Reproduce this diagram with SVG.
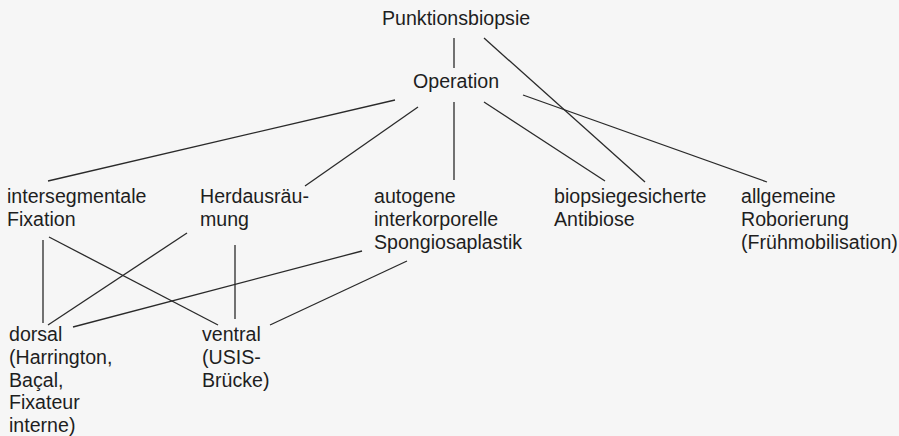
<svg xmlns="http://www.w3.org/2000/svg" width="899" height="436" viewBox="0 0 899 436">
<style>
text{font-family:"Liberation Sans",Arial,Helvetica,sans-serif;font-size:19.6px;fill:#1e1e1e}
.c line{stroke:#2a2a2a;stroke-width:1.3;fill:none}
</style>
<rect x="0" y="0" width="899" height="436" fill="#f6f6f6"/>
<g id="connectors" class="c">
<line x1="454" y1="38" x2="454" y2="68"/>
<line x1="484" y1="38" x2="645" y2="182"/>
<line x1="395" y1="100" x2="48" y2="181"/>
<line x1="418" y1="107" x2="305" y2="186"/>
<line x1="454" y1="102" x2="454" y2="180"/>
<line x1="484" y1="102" x2="605" y2="181"/>
<line x1="523" y1="95" x2="767" y2="182"/>
<line x1="43" y1="240" x2="43" y2="323"/>
<line x1="49" y1="237" x2="218" y2="325"/>
<line x1="187" y1="233" x2="48" y2="325"/>
<line x1="235" y1="245" x2="235" y2="319"/>
<line x1="362" y1="251" x2="73" y2="327"/>
<line x1="407" y1="261" x2="270" y2="325"/>
</g>
<g id="punktionsbiopsie"><text x="382" y="25">Punktionsbiopsie</text></g>
<g id="operation"><text x="413" y="88">Operation</text></g>
<g id="fixation"><text x="7" y="203">intersegmentale</text><text x="7" y="226">Fixation</text></g>
<g id="herdausraeumung"><text x="200" y="203">Herdausräu-</text><text x="200" y="226">mung</text></g>
<g id="spongiosaplastik"><text x="374" y="203">autogene</text><text x="374" y="226">interkorporelle</text><text x="374" y="249">Spongiosaplastik</text></g>
<g id="antibiose"><text x="554" y="203">biopsiegesicherte</text><text x="554" y="226">Antibiose</text></g>
<g id="roborierung"><text x="741" y="203">allgemeine</text><text x="741" y="226">Roborierung</text><text x="741" y="249">(Frühmobilisation)</text></g>
<g id="dorsal"><text x="9" y="341">dorsal</text><text x="9" y="364">(Harrington,</text><text x="9" y="386.5">Baçal,</text><text x="9" y="409">Fixateur</text><text x="9" y="432">interne)</text></g>
<g id="ventral"><text x="202" y="341">ventral</text><text x="202" y="364">(USIS-</text><text x="202" y="386.5">Brücke)</text></g>
</svg>
